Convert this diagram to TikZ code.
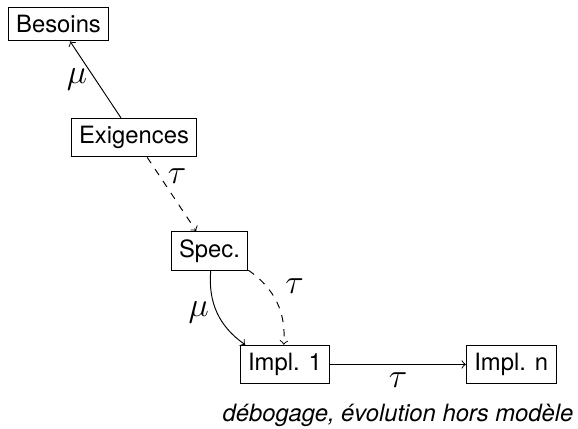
\documentclass[tikz,border=0pt]{standalone}
\usepackage{fontspec}
\setmainfont{TeX Gyre Heros}
\usetikzlibrary{positioning}

\begin{document}
\begin{tikzpicture}[->,auto,node distance=1.675cm and 1.114cm,on grid,
    bloc/.style={rectangle,draw},
    lbl/.style={font=\Large}]

    \useasboundingbox (-24.6pt,10.1pt) rectangle (218.2pt,-170.1pt);

    \node[bloc] (besoins) {Besoins};
    \node[bloc] (exigences) [below right=of besoins] {Exigences};
    \node[bloc] (spec) [below right=of exigences] {Spec.};
    \node[bloc] (impl1) [below right=of spec] {Impl. 1};
    \node[bloc] (impln) [right=3.34cm of impl1] {Impl. n};

    \draw (exigences) to node[lbl,left] {$\mu$} (besoins);
    \draw[dashed] (exigences) to node[lbl,right,near start] {$\tau$} (spec);
    \draw (spec) to[bend right] node[lbl,left] {$\mu$} (impl1);
    \draw[dashed] (spec) to[bend left] node[lbl] {$\tau$} (impl1);
    \draw (impl1) to node[lbl,swap] (t3) {$\tau$} (impln);

    \node (remarque) [below=14.9pt of t3] {\itshape débogage, évolution hors modèle};
\end{tikzpicture}
\end{document}
